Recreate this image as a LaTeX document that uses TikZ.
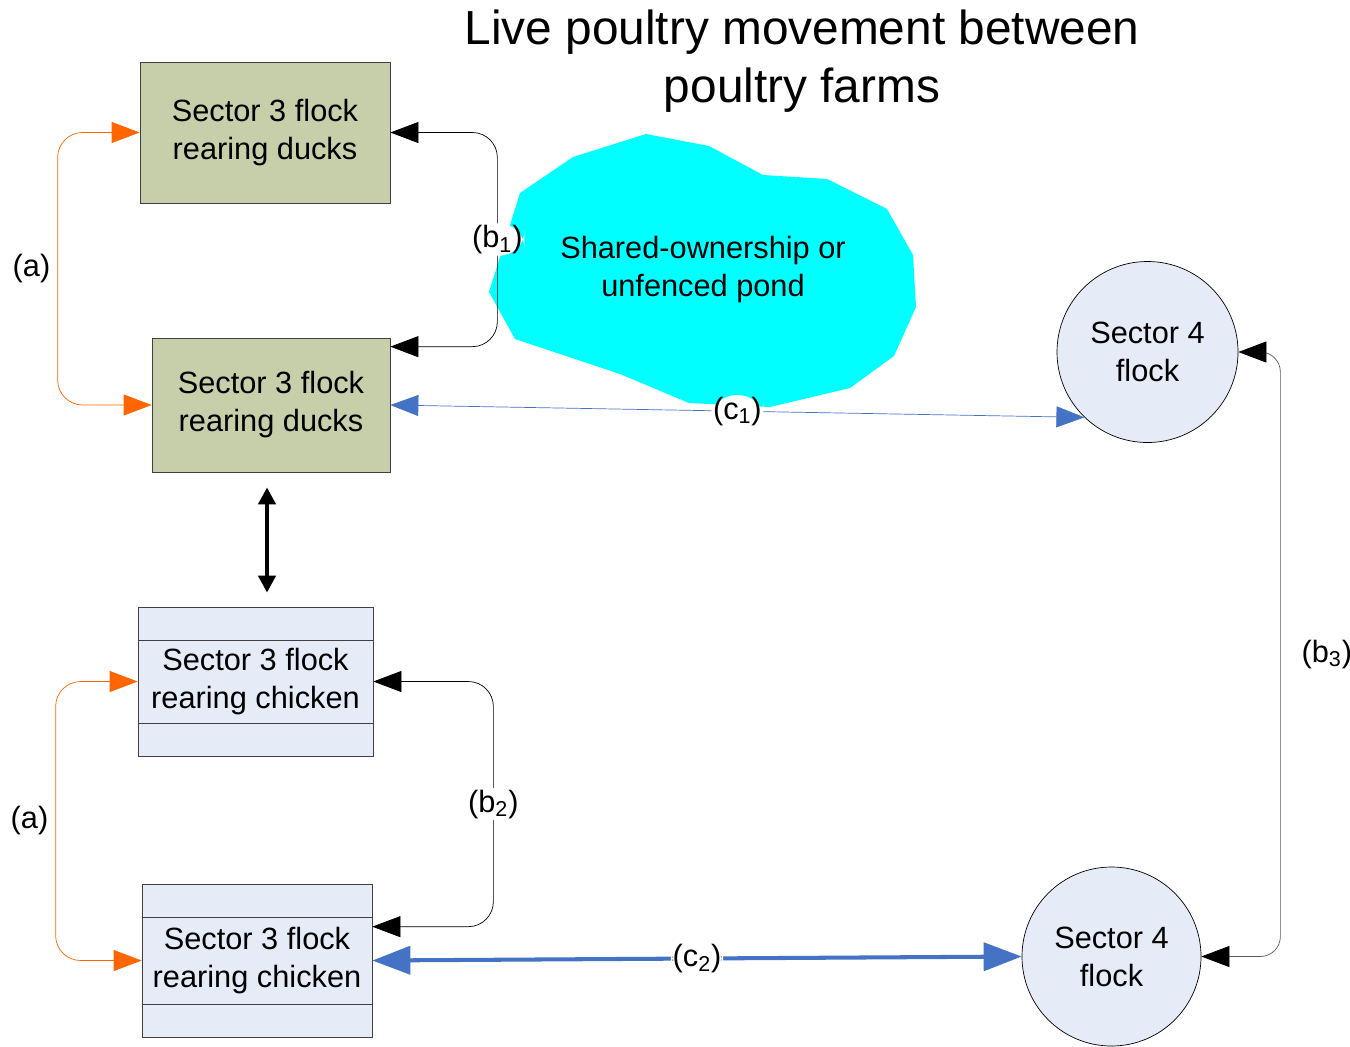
\documentclass[tikz,border=0pt]{standalone}
\usepackage{fontspec}
\setmainfont{Liberation Sans}
\usetikzlibrary{arrows.meta}
\definecolor{duckgreen}{RGB}{198,207,169}
\definecolor{flockblue}{RGB}{230,236,247}
\definecolor{linkorange}{RGB}{255,102,0}
\definecolor{linkblue}{RGB}{68,114,196}
\definecolor{pondcyan}{RGB}{0,255,255}
\begin{document}
\begin{tikzpicture}[
  every node/.style={font=\fontsize{17.5}{21.6}\selectfont, text=black},
  duckbox/.style={draw=black!75, fill=duckgreen, align=center},
  chickbox/.style={draw=black!75, fill=flockblue, align=center,
    path picture={
      \draw ([yshift=-0.66cm]path picture bounding box.north west) -- ([yshift=-0.66cm]path picture bounding box.north east);
      \draw ([yshift=0.66cm]path picture bounding box.south west) -- ([yshift=0.66cm]path picture bounding box.south east);
    }},
  flock/.style={draw, circle, fill=flockblue, align=center},
  tag/.style={inner sep=1pt},
  link/.style={<->, >={Triangle[length=5.6mm,width=4.2mm]}, rounded corners=0.5cm},
  orangelink/.style={link, linkorange},
  bluelink/.style={link, linkblue}
]
\useasboundingbox (0,0) rectangle (27,-20.92);

\node[align=center, font=\fontsize{27.2}{33}\selectfont] at (16.04,-1.22) (title) {Live poultry movement between\\poultry farms};

% pond
\fill[pondcyan] (12.92,-2.68) -- (14.18,-2.92) -- (15.26,-3.50) -- (16.54,-3.58) -- (17.74,-4.18)
  -- (18.26,-5.10) -- (18.32,-6.14) -- (17.88,-7.12) -- (17.00,-7.76) -- (15.40,-8.14)
  -- (13.78,-8.06) -- (12.40,-7.48) -- (10.30,-6.78) -- (9.78,-5.84) -- (10.40,-3.86)
  -- (11.46,-3.14) -- cycle;
\node[align=center] at (14.06,-5.40) (pond) {Shared-ownership or\\unfenced pond};

\node[duckbox, minimum width=5cm, minimum height=2.82cm] at (5.30,-2.65) (duckA) {Sector 3 flock\\rearing ducks};
\node[duckbox, minimum width=4.76cm, minimum height=2.68cm] at (5.42,-8.10) (duckB) {Sector 3 flock\\rearing ducks};
\node[chickbox, minimum width=4.7cm, minimum height=2.98cm] at (5.11,-13.63) (chickA) {Sector 3 flock\\rearing chicken};
\node[chickbox, minimum width=4.6cm, minimum height=3.06cm] at (5.14,-19.21) (chickB) {Sector 3 flock\\rearing chicken};
\node[flock, minimum size=3.62cm] at (22.95,-7.04) (secA) {Sector 4\\flock};
\node[flock, minimum size=3.58cm] at (22.23,-19.13) (secB) {Sector 4\\flock};

% (a) links
\draw[orangelink] (duckA.west) -- ++(-1.64,0) |- node[pos=0.25, left, inner sep=1.4mm] {(a)} (duckB.west);
\draw[orangelink] (chickA.west) -- ++(-1.64,0) |- node[pos=0.25, left, inner sep=1.4mm] {(a)} (chickB.west);

% (b) links
\draw[link] (duckA.east) -- ++(2.14,0) |- node[pos=0.25, fill=white, tag] {(b\textsubscript{1})} ([yshift=-0.18cm]duckB.north east);
\draw[link] (chickA.east) -- ++(2.40,0) |- node[pos=0.25, fill=white, tag] {(b\textsubscript{2})} ([yshift=-0.86cm]chickB.north east);
\draw[link, black!65, >={Triangle[length=5.6mm,width=4.2mm,color=black]}, rounded corners=0.4cm]
  (secA.east) -- ++(0.84,0) |- node[pos=0.25, right, xshift=3mm] {(b\textsubscript{3})} (secB.east);

% (c) links
\draw[bluelink] (duckB.east) -- node[fill=white, tag] {(c\textsubscript{1})} (secA.226);
\draw[bluelink, line width=2.3pt, >={Triangle[length=7.6mm,width=5.6mm]}] (chickB.east) -- node[fill=white, tag] {(c\textsubscript{2})} (secB.west);

% ducks <-> chicken
\draw[<->, >={Triangle[length=3.4mm,width=3.4mm]}, line width=2.3pt, shorten <=3mm, shorten >=2.8mm]
  ([xshift=-0.8mm]duckB.south) -- ([xshift=-0.8mm]duckB.south |- chickA.north);
\end{tikzpicture}
\end{document}
